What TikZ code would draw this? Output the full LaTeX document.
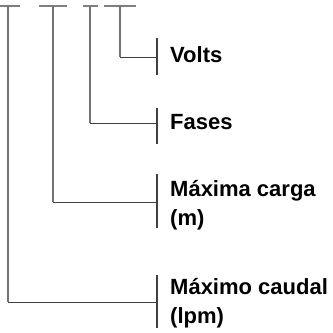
\documentclass[tikz,border=0pt]{standalone}
\usepackage{fontspec}
\setmainfont{Liberation Sans}
\begin{document}
\begin{tikzpicture}[x=1pt,y=-1pt,
  lbl/.style={anchor=base west,inner sep=0pt,align=left,font=\fontsize{22}{29}\selectfont\bfseries},
  topbar/.style={draw=black!50,line width=1.4pt},
  riser/.style={draw=black!55,line width=1.3pt},
  link/.style={draw=black!75,line width=1pt},
  tick/.style={draw=black!75,line width=1.2pt}]
\useasboundingbox (0,0) rectangle (333,333);
% top bars
\draw[topbar] (0,6) -- (20,6);
\draw[topbar] (39,6) -- (67,6);
\draw[topbar] (83,6) -- (98,6);
\draw[topbar] (104,6) -- (136,6);
% labels (base anchor = baseline of last line)
\node[lbl] (volts) at (170,62) {Volts};
\node[lbl] (fases) at (170,129) {Fases};
\node[lbl] (carga) at (170,225) {Máxima carga\\(m)};
\node[lbl] (caudal) at (170,323) {Máximo caudal\\(lpm)};
% ticks
\coordinate (t1a) at (157,38); \coordinate (t1b) at (157,75);
\coordinate (t2a) at (157,108); \coordinate (t2b) at (157,144);
\coordinate (t3a) at (157,174); \coordinate (t3b) at (157,228);
\coordinate (t4a) at (157,275); \coordinate (t4b) at (157,328);
\draw[tick] (t1a) -- (t1b);
\draw[tick] (t2a) -- (t2b);
\draw[tick] (t3a) -- (t3b);
\draw[tick] (t4a) -- (t4b);
% risers
\coordinate (r1) at (120,6); \coordinate (c1) at (120,57); \coordinate (e1) at (157,57);
\coordinate (r2) at (90,6); \coordinate (c2) at (90,123); \coordinate (e2) at (157,123);
\coordinate (r3) at (53,6); \coordinate (c3) at (53,202); \coordinate (e3) at (157,202);
\coordinate (r4) at (8,6); \coordinate (c4) at (8,302); \coordinate (e4) at (157,302);
\draw[riser] (r1) -- (c1); \draw[link] (c1) -- (e1);
\draw[riser] (r2) -- (c2); \draw[link] (c2) -- (e2);
\draw[riser] (r3) -- (c3); \draw[link] (c3) -- (e3);
\draw[riser] (r4) -- (c4); \draw[link] (c4) -- (e4);
\end{tikzpicture}
\end{document}
